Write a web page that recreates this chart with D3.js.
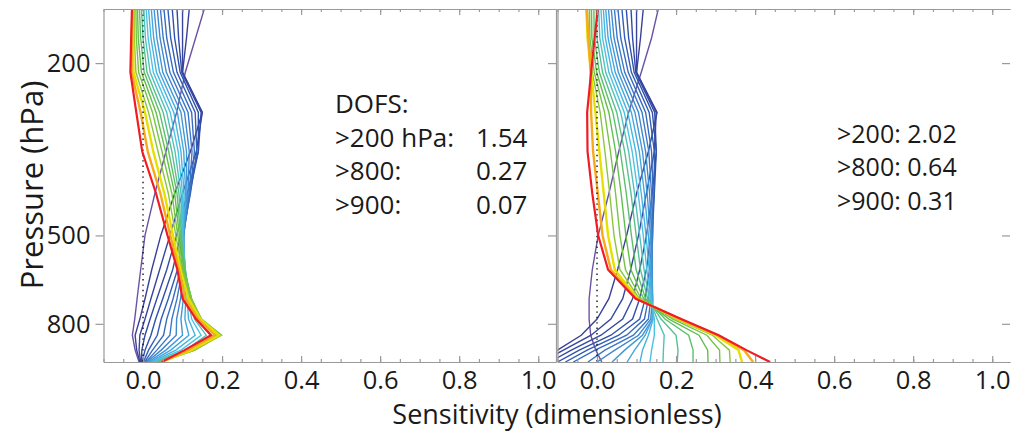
<!DOCTYPE html>
<html>
<head>
<meta charset="utf-8">
<script src="https://cdn.jsdelivr.net/npm/d3@7"></script>
<style>
  body { margin: 0; background: #fff; }
  text { font-family: "Open Sans", sans-serif; fill: #1a1a1a; }
</style>
</head>
<body>
<svg width="1014" height="432"></svg>
<script>
// pressure levels (hPa) shared by every curve
var pressureLevels = [150, 175, 210, 260, 320, 400, 500, 600, 700, 780, 850, 920, 980];

// left panel: one row per curve, first = purple, last = red
var leftCurves = [
  [0.155, 0.133, 0.107, 0.085, 0.058, 0.030, 0.005, -0.006, -0.015, -0.021, -0.027, -0.020, -0.010],
  [0.117, 0.110, 0.100, 0.150, 0.120, 0.080, 0.045, 0.022, 0.005, -0.008, -0.020, -0.016, -0.008],
  [0.100, 0.100, 0.100, 0.150, 0.135, 0.100, 0.068, 0.042, 0.020, 0.005, -0.008, -0.010, -0.006],
  [0.086, 0.090, 0.098, 0.147, 0.140, 0.112, 0.085, 0.060, 0.035, 0.018, 0.005, -0.003, -0.004],
  [0.074, 0.080, 0.094, 0.140, 0.140, 0.118, 0.095, 0.075, 0.050, 0.032, 0.020, 0.005, -0.002],
  [0.063, 0.070, 0.086, 0.132, 0.136, 0.120, 0.100, 0.087, 0.064, 0.046, 0.036, 0.014, 0.001],
  [0.053, 0.060, 0.077, 0.123, 0.130, 0.119, 0.102, 0.095, 0.076, 0.060, 0.052, 0.024, 0.004],
  [0.044, 0.051, 0.068, 0.114, 0.124, 0.117, 0.103, 0.100, 0.086, 0.073, 0.068, 0.035, 0.007],
  [0.036, 0.043, 0.059, 0.105, 0.117, 0.114, 0.103, 0.103, 0.095, 0.085, 0.084, 0.046, 0.010],
  [0.028, 0.035, 0.050, 0.096, 0.110, 0.111, 0.103, 0.105, 0.102, 0.096, 0.100, 0.058, 0.014],
  [0.021, 0.027, 0.042, 0.087, 0.103, 0.108, 0.102, 0.106, 0.108, 0.106, 0.116, 0.070, 0.018],
  [0.014, 0.020, 0.034, 0.078, 0.096, 0.104, 0.101, 0.107, 0.112, 0.115, 0.132, 0.083, 0.022],
  [0.008, 0.013, 0.026, 0.069, 0.089, 0.100, 0.100, 0.107, 0.115, 0.123, 0.147, 0.096, 0.026],
  [0.002, 0.006, 0.018, 0.060, 0.081, 0.096, 0.099, 0.107, 0.118, 0.130, 0.160, 0.108, 0.030],
  [-0.004, 0.000, 0.010, 0.051, 0.073, 0.091, 0.097, 0.106, 0.120, 0.136, 0.172, 0.118, 0.034],
  [-0.009, -0.006, 0.003, 0.042, 0.065, 0.086, 0.095, 0.105, 0.122, 0.141, 0.182, 0.126, 0.038],
  [-0.014, -0.012, -0.004, 0.033, 0.057, 0.080, 0.092, 0.104, 0.123, 0.145, 0.190, 0.130, 0.041],
  [-0.018, -0.017, -0.011, 0.024, 0.048, 0.073, 0.088, 0.102, 0.123, 0.148, 0.196, 0.131, 0.043],
  [-0.022, -0.022, -0.018, 0.014, 0.038, 0.064, 0.083, 0.099, 0.121, 0.148, 0.199, 0.130, 0.045],
  [-0.025, -0.025, -0.024, 0.005, 0.026, 0.054, 0.076, 0.095, 0.115, 0.145, 0.192, 0.122, 0.046],
  [-0.027, -0.028, -0.029, -0.006, 0.012, 0.044, 0.069, 0.091, 0.107, 0.140, 0.182, 0.113, 0.046],
  [-0.028, -0.030, -0.032, -0.017, -0.002, 0.033, 0.062, 0.087, 0.100, 0.134, 0.172, 0.105, 0.047]
];

// right panel
var rightCurves = [
  [0.155, 0.138, 0.112, 0.080, 0.055, 0.030, 0.003, -0.012, -0.020, -0.020, -0.016, -0.003, 0.012],
  [0.117, 0.110, 0.100, 0.152, 0.130, 0.100, 0.075, 0.052, 0.030, 0.000, -0.040, -0.100, -0.160],
  [0.100, 0.100, 0.100, 0.150, 0.145, 0.125, 0.105, 0.085, 0.065, 0.035, -0.015, -0.085, -0.140],
  [0.086, 0.090, 0.098, 0.146, 0.150, 0.140, 0.125, 0.108, 0.090, 0.065, 0.010, -0.065, -0.120],
  [0.074, 0.080, 0.094, 0.140, 0.150, 0.145, 0.136, 0.125, 0.108, 0.090, 0.035, -0.045, -0.100],
  [0.063, 0.070, 0.087, 0.132, 0.145, 0.145, 0.140, 0.133, 0.122, 0.108, 0.055, -0.025, -0.080],
  [0.053, 0.060, 0.079, 0.123, 0.138, 0.142, 0.141, 0.137, 0.130, 0.120, 0.075, -0.005, -0.060],
  [0.044, 0.051, 0.070, 0.114, 0.131, 0.138, 0.140, 0.139, 0.136, 0.130, 0.092, 0.020, -0.023],
  [0.036, 0.043, 0.062, 0.105, 0.123, 0.133, 0.138, 0.140, 0.140, 0.136, 0.105, 0.045, 0.000],
  [0.029, 0.035, 0.054, 0.096, 0.115, 0.127, 0.135, 0.139, 0.141, 0.140, 0.115, 0.070, 0.038],
  [0.022, 0.028, 0.046, 0.087, 0.107, 0.120, 0.130, 0.136, 0.141, 0.140, 0.122, 0.095, 0.076],
  [0.016, 0.021, 0.038, 0.078, 0.098, 0.112, 0.124, 0.132, 0.139, 0.142, 0.130, 0.115, 0.109],
  [0.010, 0.014, 0.030, 0.069, 0.089, 0.104, 0.117, 0.126, 0.136, 0.145, 0.145, 0.138, 0.134],
  [0.004, 0.007, 0.022, 0.060, 0.080, 0.095, 0.108, 0.119, 0.132, 0.152, 0.170, 0.168, 0.167],
  [-0.002, 0.000, 0.014, 0.050, 0.070, 0.086, 0.099, 0.110, 0.128, 0.162, 0.200, 0.205, 0.203],
  [-0.008, -0.007, 0.006, 0.040, 0.059, 0.074, 0.087, 0.099, 0.123, 0.172, 0.232, 0.243, 0.243],
  [-0.014, -0.013, -0.001, 0.030, 0.047, 0.061, 0.073, 0.086, 0.118, 0.182, 0.258, 0.280, 0.281],
  [-0.019, -0.018, -0.007, 0.019, 0.034, 0.047, 0.058, 0.072, 0.112, 0.192, 0.278, 0.310, 0.311],
  [-0.024, -0.022, -0.012, 0.008, 0.020, 0.032, 0.043, 0.058, 0.107, 0.200, 0.292, 0.335, 0.337],
  [-0.027, -0.024, -0.015, -0.004, 0.006, 0.017, 0.028, 0.045, 0.103, 0.206, 0.300, 0.358, 0.367],
  [-0.026, -0.022, -0.016, -0.015, -0.010, 0.002, 0.014, 0.035, 0.100, 0.210, 0.305, 0.372, 0.395],
  [0.002, -0.006, -0.015, -0.025, -0.024, -0.012, 0.003, 0.028, 0.098, 0.213, 0.308, 0.378, 0.438]
];

// dotted zero reference
var zeroLine = [0, 0, 0, 0, 0, 0, 0, 0, 0, 0, 0, 0, 0];

var xTickValues = [0, 0.2, 0.4, 0.6, 0.8, 1.0];
var yTickValues = [200, 500, 800];

var leftDofsLabels = [">200 hPa:", ">800:", ">900:"];
var leftDofsValues = ["1.54", "0.27", "0.07"];
var rightDofsLabels = [">200:", ">800:", ">900:"];
var rightDofsValues = ["2.02", "0.64", "0.31"];

// rainbow for the curve index
var colorStops = [0, 1, 4, 7, 10, 12, 14, 16, 18, 19, 20, 21];
var colorRange = ["#6a52a3", "#3a3f98", "#3050aa", "#3c78c8", "#44a6dd", "#4cc2e3",
                  "#58c090", "#62bf4c", "#8cc63f", "#e6e000", "#f7a81b", "#ee1c24"];
var color = d3.scaleLinear().domain(colorStops).range(colorRange);

var svg = d3.select('svg');
var plotTop = 9, plotBottom = 362;
var y = d3.scaleLog().domain([150, 980]).range([plotTop, plotBottom]);
var axisGray = "#9a9a9a";
var minorTicks = d3.range(-0.1, 1.0001, 0.05);

function styleAxis(g) {
  g.selectAll('line, path').attr('stroke', axisGray).attr('stroke-width', 1.2);
  g.attr('font-family', '"Open Sans", sans-serif').attr('font-size', 25.5);
  g.selectAll('text').attr('fill', '#1a1a1a');
}

function drawPanel(curves, x0, x1, id) {
  var x = d3.scaleLinear().domain([-0.1, 1.045]).range([x0, x1]);

  svg.append('clipPath').attr('id', id)
    .append('rect').attr('x', x0).attr('y', plotTop).attr('width', x1 - x0).attr('height', plotBottom - plotTop);

  var line = d3.line()
    .x(function(d) { return x(d); })
    .y(function(d, i) { return y(pressureLevels[i]); });

  var plot = svg.append('g').attr('clip-path', 'url(#' + id + ')');

  var last = curves.length - 1;
  plot.selectAll('.curve')
    .data(curves.slice(0, last))
    .enter().append('path')
    .attr('class', 'curve')
    .attr('d', line)
    .attr('fill', 'none')
    .attr('stroke', function(d, i) { return color(i); })
    .attr('stroke-width', function(d, i) { return i >= last - 2 ? 2.4 : 1.4; });

  plot.append('path')
    .attr('d', line(zeroLine))
    .attr('fill', 'none')
    .attr('stroke', '#111')
    .attr('stroke-width', 1.4)
    .attr('stroke-dasharray', '1.4,4');

  plot.append('path')
    .attr('d', line(curves[last]))
    .attr('fill', 'none')
    .attr('stroke', color(last))
    .attr('stroke-width', 2.2);

  // bottom axis with labels, minor ticks
  svg.append('g').attr('transform', 'translate(0,' + plotBottom + ')')
    .call(d3.axisBottom(x).tickValues(minorTicks).tickSize(-3).tickSizeOuter(0).tickFormat(''))
    .call(styleAxis);
  svg.append('g').attr('transform', 'translate(0,' + plotBottom + ')')
    .call(d3.axisBottom(x).tickValues(xTickValues).tickSize(-6).tickSizeOuter(0)
      .tickPadding(9).tickFormat(d3.format('.1f')))
    .call(styleAxis);

  // top axis, ticks only
  svg.append('g').attr('transform', 'translate(0,' + plotTop + ')')
    .call(d3.axisTop(x).tickValues(minorTicks).tickSize(-3).tickSizeOuter(0).tickFormat(''))
    .call(styleAxis);
  svg.append('g').attr('transform', 'translate(0,' + plotTop + ')')
    .call(d3.axisTop(x).tickValues(xTickValues).tickSize(-6).tickSizeOuter(0).tickFormat(''))
    .call(styleAxis);

  return x;
}

var xL = drawPanel(leftCurves, 103.5, 556, 'clipL');
var xR = drawPanel(rightCurves, 557.5, 1010, 'clipR');

// y axes
svg.append('g').attr('transform', 'translate(103.5,0)')
  .call(d3.axisLeft(y).tickValues(yTickValues).tickSize(8).tickSizeOuter(0)
    .tickPadding(5).tickFormat(d3.format('d')))
  .call(styleAxis);
svg.append('g').attr('transform', 'translate(556,0)')
  .call(d3.axisRight(y).tickValues(yTickValues).tickSize(-8).tickSizeOuter(0).tickFormat(''))
  .call(styleAxis);
svg.append('g').attr('transform', 'translate(557.5,0)')
  .call(d3.axisLeft(y).tickValues([]).tickSizeOuter(0))
  .call(styleAxis);
var rightEdge = svg.append('g').attr('transform', 'translate(1010,0)')
  .call(d3.axisRight(y).tickValues(yTickValues).tickSize(-8).tickSizeOuter(0).tickFormat(''))
  .call(styleAxis);
rightEdge.select('.domain').remove();

// axis titles
svg.append('text')
  .attr('transform', 'translate(43,185) rotate(-90)')
  .attr('text-anchor', 'middle')
  .style('font-size', '31px')
  .text('Pressure (hPa)');

svg.append('text')
  .attr('x', 557).attr('y', 424)
  .attr('text-anchor', 'middle')
  .style('font-size', '27px')
  .text('Sensitivity (dimensionless)');

// DOFS annotations
svg.append('text').attr('x', 335).attr('y', 113).style('font-size', '26px').text('DOFS:');
leftDofsLabels.forEach(function(t, i) {
  svg.append('text').attr('x', 335).attr('y', 147 + i * 33.3).style('font-size', '26px').text(t);
  svg.append('text').attr('x', 476).attr('y', 147 + i * 33.3).style('font-size', '26px').text(leftDofsValues[i]);
});
rightDofsLabels.forEach(function(t, i) {
  svg.append('text').attr('x', 837).attr('y', 143 + i * 33.3).style('font-size', '25px')
    .text(t + ' ' + rightDofsValues[i]);
});
</script>
</body>
</html>
